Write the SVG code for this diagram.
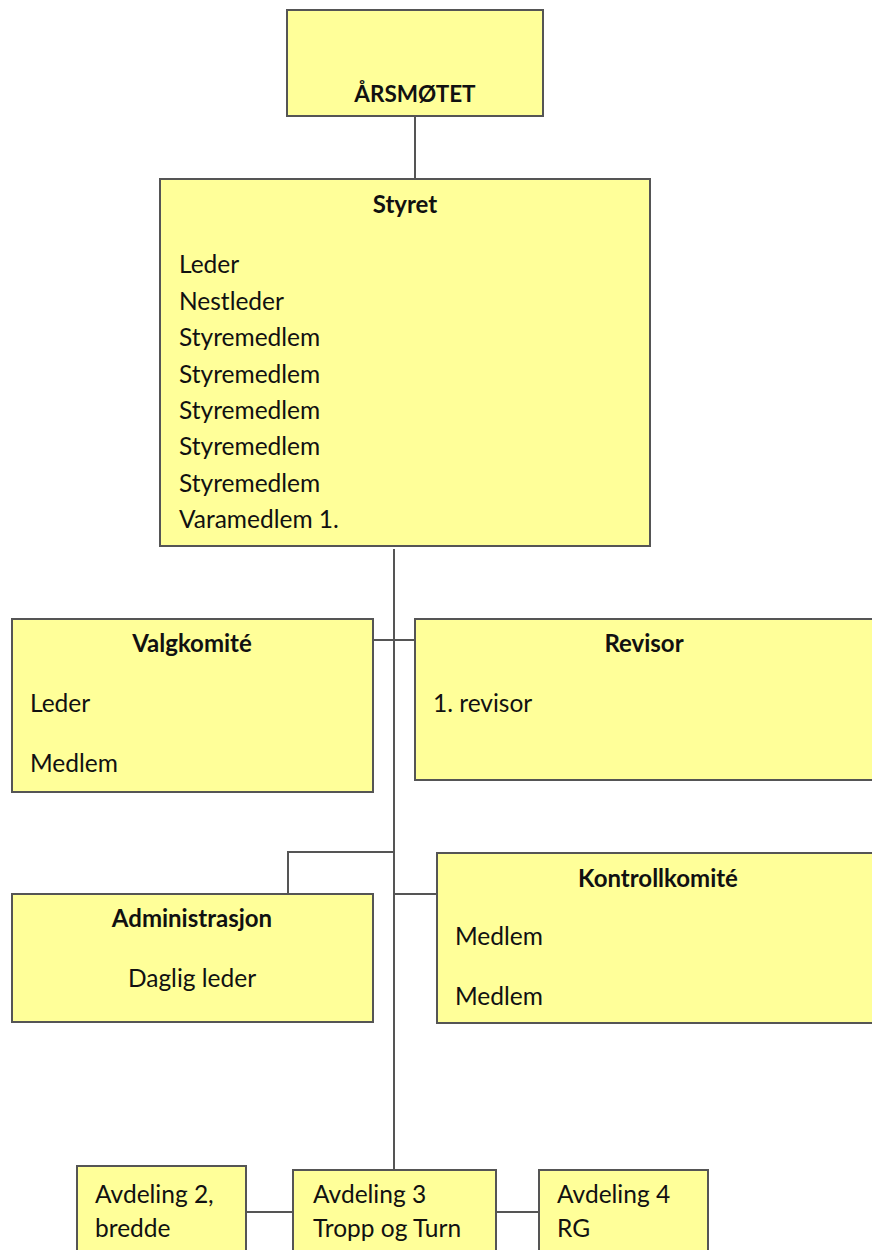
<svg xmlns="http://www.w3.org/2000/svg" width="872" height="1250" viewBox="0 0 872 1250">
<style>
.box{fill:#ffff99;stroke:#555;stroke-width:2}
.t{font-family:Lato,"Liberation Sans",sans-serif;font-size:24.5px;fill:#111}
.b{font-weight:bold;text-anchor:middle;font-size:24px}
.c{text-anchor:middle}
.ln{stroke:#555;stroke-width:2;fill:none}
</style>
<rect width="872" height="1250" fill="#fff"/>
<g id="connectors">
<line class="ln" x1="415" y1="116" x2="415" y2="179"/>
<line class="ln" x1="394" y1="549" x2="394" y2="1170"/>
<line class="ln" x1="372" y1="640" x2="415" y2="640"/>
<polyline class="ln" points="394,852 288,852 288,894"/>
<line class="ln" x1="394" y1="894" x2="437" y2="894"/>
<line class="ln" x1="246" y1="1212" x2="293" y2="1212"/>
<line class="ln" x1="496" y1="1212" x2="539" y2="1212"/>
</g>
<g id="arsmotet">
<rect class="box" x="287" y="10" width="256" height="106"/>
<text class="t b" x="415" y="102" style="font-size:22.5px">ÅRSMØTET</text>
</g>
<g id="styret">
<rect class="box" x="160" y="179" width="490" height="367"/>
<text class="t b" x="405" y="213">Styret</text>
<text class="t" x="179" y="273">Leder</text>
<text class="t" x="179" y="310">Nestleder</text>
<text class="t" x="179" y="346">Styremedlem</text>
<text class="t" x="179" y="383">Styremedlem</text>
<text class="t" x="179" y="419">Styremedlem</text>
<text class="t" x="179" y="455">Styremedlem</text>
<text class="t" x="179" y="492">Styremedlem</text>
<text class="t" x="179" y="528">Varamedlem 1.</text>
</g>
<g id="valgkomite">
<rect class="box" x="12" y="619" width="361" height="173"/>
<text class="t b" x="192" y="652">Valgkomité</text>
<text class="t" x="30" y="712">Leder</text>
<text class="t" x="30" y="772">Medlem</text>
</g>
<g id="revisor">
<rect class="box" x="415" y="619" width="460" height="161"/>
<text class="t b" x="644" y="652">Revisor</text>
<text class="t" x="433" y="712">1. revisor</text>
</g>
<g id="administrasjon">
<rect class="box" x="12" y="894" width="361" height="128"/>
<text class="t b" x="192" y="927">Administrasjon</text>
<text class="t c" x="192" y="987">Daglig leder</text>
</g>
<g id="kontrollkomite">
<rect class="box" x="437" y="853" width="445" height="170"/>
<text class="t b" x="658" y="887">Kontrollkomité</text>
<text class="t" x="455" y="945">Medlem</text>
<text class="t" x="455" y="1005">Medlem</text>
</g>
<g id="avdeling2">
<rect class="box" x="77" y="1166" width="169" height="100"/>
<text class="t" x="95" y="1203">Avdeling 2,</text>
<text class="t" x="95" y="1237">bredde</text>
</g>
<g id="avdeling3">
<rect class="box" x="293" y="1170" width="203" height="100"/>
<text class="t" x="313" y="1203">Avdeling 3</text>
<text class="t" x="313" y="1237">Tropp og Turn</text>
</g>
<g id="avdeling4">
<rect class="box" x="539" y="1170" width="169" height="100"/>
<text class="t" x="557" y="1203">Avdeling 4</text>
<text class="t" x="557" y="1237">RG</text>
</g>
</svg>
